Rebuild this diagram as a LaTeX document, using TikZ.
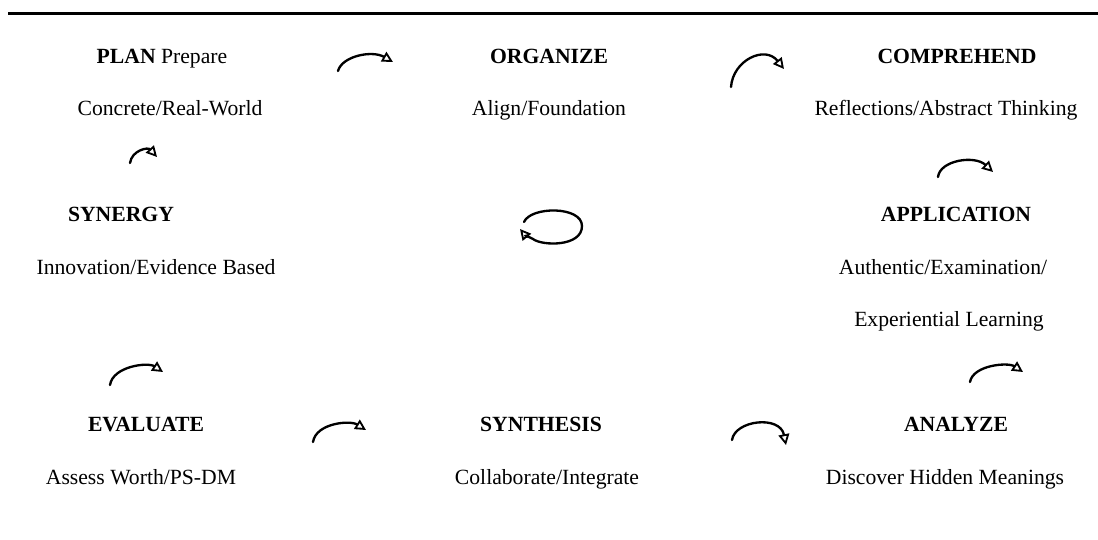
\documentclass[tikz,border=0pt]{standalone}
\usepackage{fontspec}
\setmainfont{Liberation Serif}
\usetikzlibrary{arrows.meta}
\begin{document}
\begin{tikzpicture}[x=0.6pt,y=-0.6pt,
  lbl/.style={inner sep=0pt,anchor=base,font=\fontsize{13}{15}\selectfont},
  ttl/.style={lbl,font=\fontsize{13}{15}\selectfont\bfseries},
  carrow/.style={line width=1.4pt,line cap=round,-{Triangle[open,length=6.5pt,width=6.5pt,line width=1.1pt]}}]
\useasboundingbox (0,0) rectangle (1098,539);
\draw[line width=1.8pt] (8,13) -- (1098,13);
% texts
\node[lbl] (plan) at (162,63.5) {\textbf{PLAN} Prepare};
\node[lbl] (planS) at (170,115) {Concrete/Real-World};
\node[ttl] (org) at (549,63.5) {ORGANIZE};
\node[lbl] (orgS) at (549,115) {Align/Foundation};
\node[ttl] (comp) at (957,63.5) {COMPREHEND};
\node[lbl] (compS) at (946,115) {Reflections/Abstract Thinking};
\node[ttl] (syn) at (121,221.5) {SYNERGY};
\node[lbl] (synS) at (156,274.5) {Innovation/Evidence Based};
\node[ttl] (app) at (956,221.5) {APPLICATION};
\node[lbl] (appS) at (943,274.5) {Authentic/Examination/};
\node[lbl] (appT) at (949,326.5) {Experiential Learning};
\node[ttl] (eval) at (146,431.5) {EVALUATE};
\node[lbl] (evalS) at (141,484.5) {Assess Worth/PS-DM};
\node[ttl] (synth) at (541,431.5) {SYNTHESIS};
\node[lbl] (synthS) at (547,484.5) {Collaborate/Integrate};
\node[ttl] (ana) at (956,431.5) {ANALYZE};
\node[lbl] (anaS) at (945,484.5) {Discover Hidden Meanings};
% arrow end points
\coordinate (a1s) at (338,71); \coordinate (a1e) at (393,62);
\coordinate (a2s) at (731,87); \coordinate (a2e) at (784,69);
\coordinate (a3s) at (130,163); \coordinate (a3e) at (157,157);
\coordinate (a4s) at (938,177); \coordinate (a4e) at (993,172);
\coordinate (a6s) at (110,385); \coordinate (a6e) at (163,372);
\coordinate (a7s) at (970,382); \coordinate (a7e) at (1023,372);
\coordinate (a8s) at (313,442); \coordinate (a8e) at (366,430);
\coordinate (a9s) at (732,440); \coordinate (a9e) at (786,445);
\coordinate (l1) at (524,222); \coordinate (l2) at (582,226);
\coordinate (l3) at (533,239); \coordinate (l4) at (520,229);
\draw[carrow] (a1s) .. controls (342,56) and (372,50) .. (a1e);
\draw[carrow] (a2s) .. controls (733,60) and (765,45) .. (a2e);
\draw[carrow] (a3s) .. controls (132,150) and (148,147) .. (a3e);
\draw[carrow] (a4s) .. controls (940,160) and (975,155) .. (a4e);
\draw[carrow] (a6s) .. controls (113,366) and (148,362) .. (a6e);
\draw[carrow] (a7s) .. controls (973,365) and (1008,362) .. (a7e);
\draw[carrow] (a8s) .. controls (316,423) and (350,420) .. (a8e);
\draw[carrow] (a9s) .. controls (735,420) and (780,415) .. (a9e);
\draw[carrow] (l1) .. controls (531,206) and (582,206) .. (l2)
  .. controls (582,247) and (542,246) .. (l3)
  .. controls (525,235) .. (l4);
\end{tikzpicture}
\end{document}
